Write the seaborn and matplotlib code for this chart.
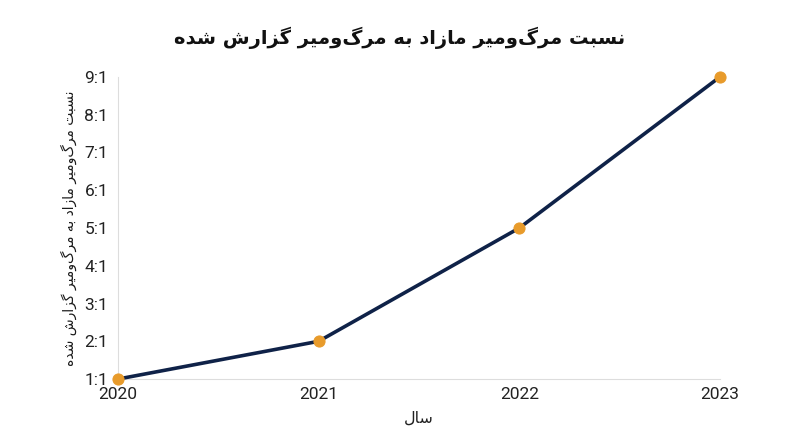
import matplotlib
matplotlib.use("Agg")
import matplotlib.pyplot as plt
import seaborn as sns
import pandas as pd

# chart data
years = [2020, 2021, 2022, 2023]
ratios = [1, 2, 5, 9]
y_ticks = [1, 2, 3, 4, 5, 6, 7, 8, 9]
y_tick_labels = [f"{v}:1" for v in y_ticks]

title_text = "نسبت مرگ\u200cومیر مازاد به مرگ\u200cومیر گزارش شده"
ylabel_text = "نسبت مرگ\u200cومیر مازاد به مرگ\u200cومیر گزارش شده"
xlabel_text = "سال"

# simple Persian shaping (isolated, final, initial, medial)
FORMS = {
    "\u0627": ("\uFE8D", "\uFE8E", None, None),
    "\u0628": ("\uFE8F", "\uFE90", "\uFE91", "\uFE92"),
    "\u062A": ("\uFE95", "\uFE96", "\uFE97", "\uFE98"),
    "\u062F": ("\uFEA9", "\uFEAA", None, None),
    "\u0631": ("\uFEAD", "\uFEAE", None, None),
    "\u0632": ("\uFEAF", "\uFEB0", None, None),
    "\u0633": ("\uFEB1", "\uFEB2", "\uFEB3", "\uFEB4"),
    "\u0634": ("\uFEB5", "\uFEB6", "\uFEB7", "\uFEB8"),
    "\u0644": ("\uFEDD", "\uFEDE", "\uFEDF", "\uFEE0"),
    "\u0645": ("\uFEE1", "\uFEE2", "\uFEE3", "\uFEE4"),
    "\u0646": ("\uFEE5", "\uFEE6", "\uFEE7", "\uFEE8"),
    "\u0647": ("\uFEE9", "\uFEEA", "\uFEEB", "\uFEEC"),
    "\u0648": ("\uFEED", "\uFEEE", None, None),
    "\u06AF": ("\uFB92", "\uFB93", "\uFB94", "\uFB95"),
    "\u06CC": ("\uFBFC", "\uFBFD", "\uFBFE", "\uFBFF"),
}


def dual(c):
    return c in FORMS and FORMS[c][2] is not None


def shape(text):
    out = []
    for i, c in enumerate(text):
        if c not in FORMS:
            if c != "\u200c":
                out.append(c)
            continue
        prev = text[i - 1] if i > 0 else ""
        nxt = text[i + 1] if i + 1 < len(text) else ""
        join_prev = dual(prev)
        join_next = dual(c) and nxt in FORMS
        iso, fin, ini, med = FORMS[c]
        if join_prev and join_next:
            out.append(med)
        elif join_prev:
            out.append(fin)
        elif join_next:
            out.append(ini)
        else:
            out.append(iso)
    return "".join(out)[::-1]


df = pd.DataFrame({"year": years, "ratio": ratios})

sns.set_theme(style="white")
plt.rcParams["font.family"] = ["Roboto", "DejaVu Sans"]

fig = plt.figure(figsize=(8, 4.47), dpi=100)
ax = fig.add_axes([0.1475, 0.152, 0.7525, 0.676])

sns.lineplot(data=df, x="year", y="ratio", ax=ax, color="#0f2248",
             linewidth=2.6, marker="o", markersize=8,
             markerfacecolor="#e89b2b", markeredgecolor="#e89b2b",
             clip_on=False, zorder=3)

ax.set_xlim(2020, 2023)
ax.set_ylim(1, 9)
ax.set_xticks(years)
ax.set_xticklabels([str(y) for y in years], fontsize=12.5, color="#222222")
ax.set_yticks(y_ticks)
ax.set_yticklabels(y_tick_labels, fontsize=12.5, color="#222222")
ax.tick_params(axis="y", length=0, pad=7)
ax.tick_params(axis="x", length=0, pad=6)

for side in ["top", "right"]:
    ax.spines[side].set_visible(False)
for side in ["left", "bottom"]:
    ax.spines[side].set_color("#dddddd")
    ax.spines[side].set_linewidth(0.8)

ax.set_xlabel(shape(xlabel_text), fontsize=11.5, color="#222222", labelpad=6,
              family=["DejaVu Sans"])
ax.set_ylabel(shape(ylabel_text), fontsize=10, color="#1a1a1a", labelpad=5,
              family=["DejaVu Sans"])

fig.text(0.5, 0.915, shape(title_text), ha="center", va="center",
         fontsize=14, fontweight="bold", color="#111111", family=["DejaVu Sans"])

fig.savefig("out.png", dpi=100)
